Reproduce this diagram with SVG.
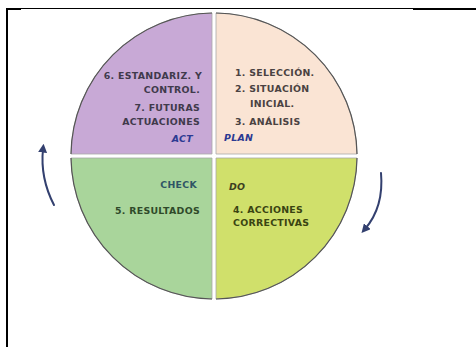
<svg xmlns="http://www.w3.org/2000/svg" width="476" height="347" viewBox="0 0 476 347">
  <style>
    .q { stroke: #a8a8a8; stroke-width: 0.8; }
    .rim { fill: none; stroke: #555555; stroke-width: 1.2; }
    .t { font-family: "DejaVu Sans", Verdana, sans-serif; font-weight: bold; font-size: 9.4px; letter-spacing: 0.3px; }
    .tag { font-family: "DejaVu Sans", Verdana, sans-serif; font-weight: bold; font-style: italic; font-size: 9.4px; letter-spacing: 0.3px; }
    .arrow { fill: none; stroke: #33406f; stroke-width: 2; stroke-linecap: round; }
  </style>
  <defs>
    <marker id="head" viewBox="0 0 10 10" refX="4" refY="5" markerWidth="4.5" markerHeight="4.5" orient="auto">
      <path d="M0,0 L10,5 L0,10 Z" fill="#33406f"/>
    </marker>
  </defs>
  <rect width="476" height="347" fill="#ffffff"/>

  <!-- frame lines -->
  <g id="frame" stroke="#000000">
    <line x1="7" y1="8" x2="7" y2="347" stroke-width="2"/>
    <line x1="6" y1="9" x2="21" y2="9" stroke-width="2"/>
    <line x1="21" y1="8.5" x2="413" y2="8.5" stroke-width="1"/>
    <line x1="413" y1="9" x2="476" y2="9" stroke-width="2"/>
  </g>

  <!-- ACT quadrant -->
  <g id="act">
    <path class="q" d="M212,154 L71,154 A143,143 0 0 1 212,13 Z" fill="#c8a9d6"/>
    <path class="rim" d="M71,154 A143,143 0 0 1 212,13"/>
    <g class="t" fill="#403a4c" text-anchor="end">
      <text x="202" y="79">6. ESTANDARIZ. Y</text>
      <text x="200" y="93">CONTROL.</text>
      <text x="200" y="111">7. FUTURAS</text>
      <text x="200" y="125">ACTUACIONES</text>
    </g>
    <text class="tag" x="193" y="142" text-anchor="end" fill="#2c3a92">ACT</text>
  </g>

  <!-- PLAN quadrant -->
  <g id="plan">
    <path class="q" d="M216,154 L216,13 A143,143 0 0 1 357,154 Z" fill="#fae4d4"/>
    <path class="rim" d="M216,13 A143,143 0 0 1 357,154"/>
    <g class="t" fill="#4a4242">
      <text x="235" y="76">1. SELECCIÓN.</text>
      <text x="235" y="92">2. SITUACIÓN</text>
      <text x="250" y="107">INICIAL.</text>
      <text x="235" y="125">3. ANÁLISIS</text>
    </g>
    <text class="tag" x="224" y="141" fill="#2c3a92">PLAN</text>
  </g>

  <!-- CHECK quadrant -->
  <g id="check">
    <path class="q" d="M212,158 L212,299 A143,143 0 0 1 71,158 Z" fill="#a9d59b"/>
    <path class="rim" d="M212,299 A143,143 0 0 1 71,158"/>
    <text class="t" x="197" y="188" text-anchor="end" fill="#2f5566">CHECK</text>
    <text class="t" x="200" y="214" text-anchor="end" fill="#2f4a2a">5. RESULTADOS</text>
  </g>

  <!-- DO quadrant -->
  <g id="do">
    <path class="q" d="M216,158 L357,158 A143,143 0 0 1 216,299 Z" fill="#d0e06b"/>
    <path class="rim" d="M357,158 A143,143 0 0 1 216,299"/>
    <text class="tag" x="229" y="190" fill="#3c3f22">DO</text>
    <g class="t" fill="#3a4412">
      <text x="233" y="213">4. ACCIONES</text>
      <text x="233" y="226">CORRECTIVAS</text>
    </g>
  </g>

  <!-- cycle arrows -->
  <g id="connectors">
    <path class="arrow" d="M54,205 Q40,178 43,149" marker-end="url(#head)"/>
    <path class="arrow" d="M381,173 Q384,207 365,229" marker-end="url(#head)"/>
  </g>
</svg>
